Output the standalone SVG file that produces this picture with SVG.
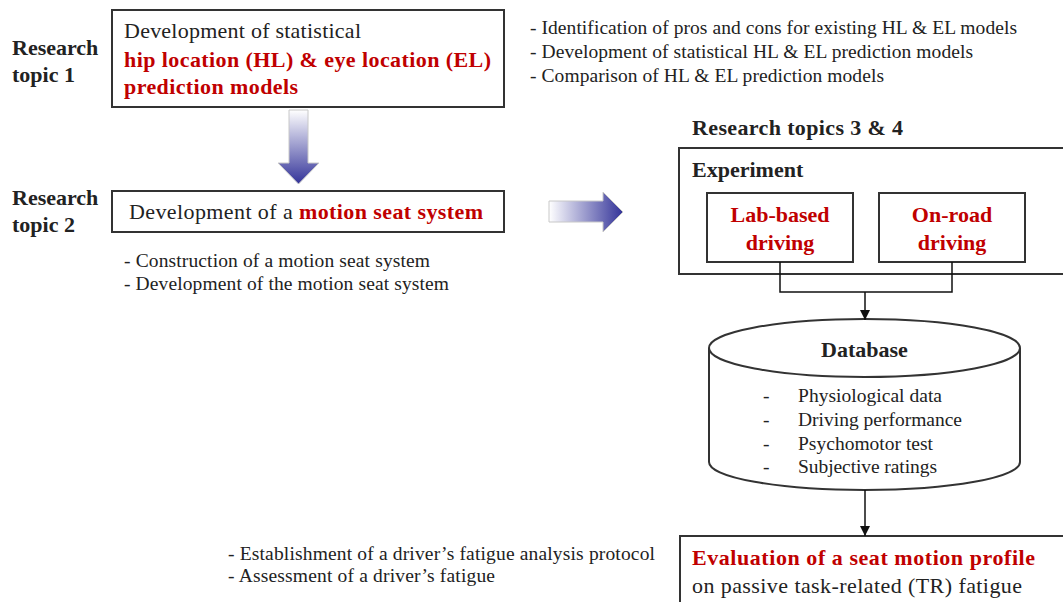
<svg xmlns="http://www.w3.org/2000/svg" width="1063" height="602" viewBox="0 0 1063 602">
<defs>
<linearGradient id="gDown" x1="0" y1="0" x2="0" y2="1">
<stop offset="0" stop-color="#ffffff"/>
<stop offset="1" stop-color="#333399"/>
</linearGradient>
<linearGradient id="gRight" x1="0" y1="0" x2="1" y2="0">
<stop offset="0" stop-color="#ffffff"/>
<stop offset="1" stop-color="#333399"/>
</linearGradient>
<marker id="ah" viewBox="0 0 10 10" refX="10" refY="5" markerWidth="10" markerHeight="10" markerUnits="userSpaceOnUse" orient="auto">
<path d="M0,0 L10,5 L0,10 z" fill="#111"/>
</marker>
<style>
text{font-family:"Liberation Serif","Times New Roman",serif;fill:#222;}
.b{font-weight:bold;}
.r{fill:#c00000;font-weight:bold;}
.lg{font-size:22px;}
.sm{font-size:19.5px;}
.box{fill:#fff;stroke:#333;stroke-width:2;}
.conn{fill:none;stroke:#111;stroke-width:1.5;}
.fat{stroke:#c8c8c8;stroke-width:1;}
</style>
</defs>
<rect width="1063" height="602" fill="#fff"/>

<g id="labels">
<text class="b lg" x="12" y="55">Research</text>
<text class="b lg" x="12" y="82">topic 1</text>
<text class="b lg" x="12" y="205">Research</text>
<text class="b lg" x="12" y="232">topic 2</text>
<text class="b lg" x="692" y="135" textLength="211" lengthAdjust="spacing">Research topics 3 &amp; 4</text>
</g>

<g id="topic1">
<rect class="box" x="112" y="10" width="392" height="97"/>
<text class="lg" x="124" y="38" textLength="237" lengthAdjust="spacing">Development of statistical</text>
<text class="r lg" x="124" y="67" textLength="367" lengthAdjust="spacing">hip location (HL) &amp; eye location (EL)</text>
<text class="r lg" x="124" y="94" textLength="174" lengthAdjust="spacing">prediction models</text>
</g>

<g id="topic1-notes" class="sm">
<text class="sm" x="530" y="34" textLength="487" lengthAdjust="spacing">- Identification of pros and cons for existing HL &amp; EL models</text>
<text class="sm" x="530" y="58" textLength="443" lengthAdjust="spacing">- Development of statistical HL &amp; EL prediction models</text>
<text class="sm" x="530" y="82" textLength="354" lengthAdjust="spacing">- Comparison of HL &amp; EL prediction models</text>
</g>

<g id="arrow-down">
<path class="fat" fill="url(#gDown)" d="M289,110 L308,110 L308,163 L319,163 L298.5,184 L278,163 L289,163 Z"/>
</g>

<g id="topic2">
<rect class="box" x="112" y="191" width="392" height="41"/>
<text class="lg" x="129" y="219" textLength="354" lengthAdjust="spacing">Development of a <tspan class="r">motion seat system</tspan></text>
</g>

<g id="topic2-notes">
<text class="sm" x="124" y="267" textLength="306" lengthAdjust="spacing">- Construction of a motion seat system</text>
<text class="sm" x="124" y="290" textLength="325" lengthAdjust="spacing">- Development of the motion seat system</text>
</g>

<g id="arrow-right">
<path class="fat" fill="url(#gRight)" d="M549,201 L603,201 L603,192 L623,212 L603,232 L603,222 L549,222 Z"/>
</g>

<g id="experiment">
<rect class="box" x="679" y="148" width="400" height="126"/>
<text class="b lg" x="692" y="177">Experiment</text>
</g>

<g id="lab">
<rect class="box" x="707" y="193" width="146" height="69"/>
<text class="r lg" x="780" y="222" text-anchor="middle">Lab-based</text>
<text class="r lg" x="780" y="250" text-anchor="middle">driving</text>
</g>

<g id="onroad">
<rect class="box" x="879" y="193" width="146" height="69"/>
<text class="r lg" x="952" y="222" text-anchor="middle">On-road</text>
<text class="r lg" x="952" y="250" text-anchor="middle">driving</text>
</g>

<g id="database">
<path class="box" d="M709,348 L709,462 A155.5,28 0 0 0 1020,462 L1020,348"/>
<ellipse class="box" cx="864.5" cy="348" rx="155.5" ry="29"/>
<text class="b lg" x="864.5" y="357" text-anchor="middle">Database</text>
<text class="sm" x="763" y="402">-</text>
<text class="sm" x="798" y="402" textLength="144" lengthAdjust="spacing">Physiological data</text>
<text class="sm" x="763" y="426">-</text>
<text class="sm" x="798" y="426" textLength="164" lengthAdjust="spacing">Driving performance</text>
<text class="sm" x="763" y="450">-</text>
<text class="sm" x="798" y="450" textLength="135" lengthAdjust="spacing">Psychomotor test</text>
<text class="sm" x="763" y="473">-</text>
<text class="sm" x="798" y="473" textLength="139" lengthAdjust="spacing">Subjective ratings</text>
</g>

<g id="evaluation">
<rect class="box" x="680" y="536" width="400" height="80"/>
<text class="r lg" x="692" y="565" textLength="343" lengthAdjust="spacing">Evaluation of a seat motion profile</text>
<text class="lg" x="692" y="593" textLength="330" lengthAdjust="spacing">on passive task-related (TR) fatigue</text>
</g>

<g id="topic34-notes">
<text class="sm" x="228" y="560" textLength="427" lengthAdjust="spacing">- Establishment of a driver’s fatigue analysis protocol</text>
<text class="sm" x="228" y="582" textLength="267" lengthAdjust="spacing">- Assessment of a driver’s fatigue</text>
</g>

<g id="connectors">
<path class="conn" d="M780,262 L780,292 L952,292 L952,262"/>
<path class="conn" d="M865,292 L865,320" marker-end="url(#ah)"/>
<path class="conn" d="M865,490 L865,536" marker-end="url(#ah)"/>
</g>
</svg>
